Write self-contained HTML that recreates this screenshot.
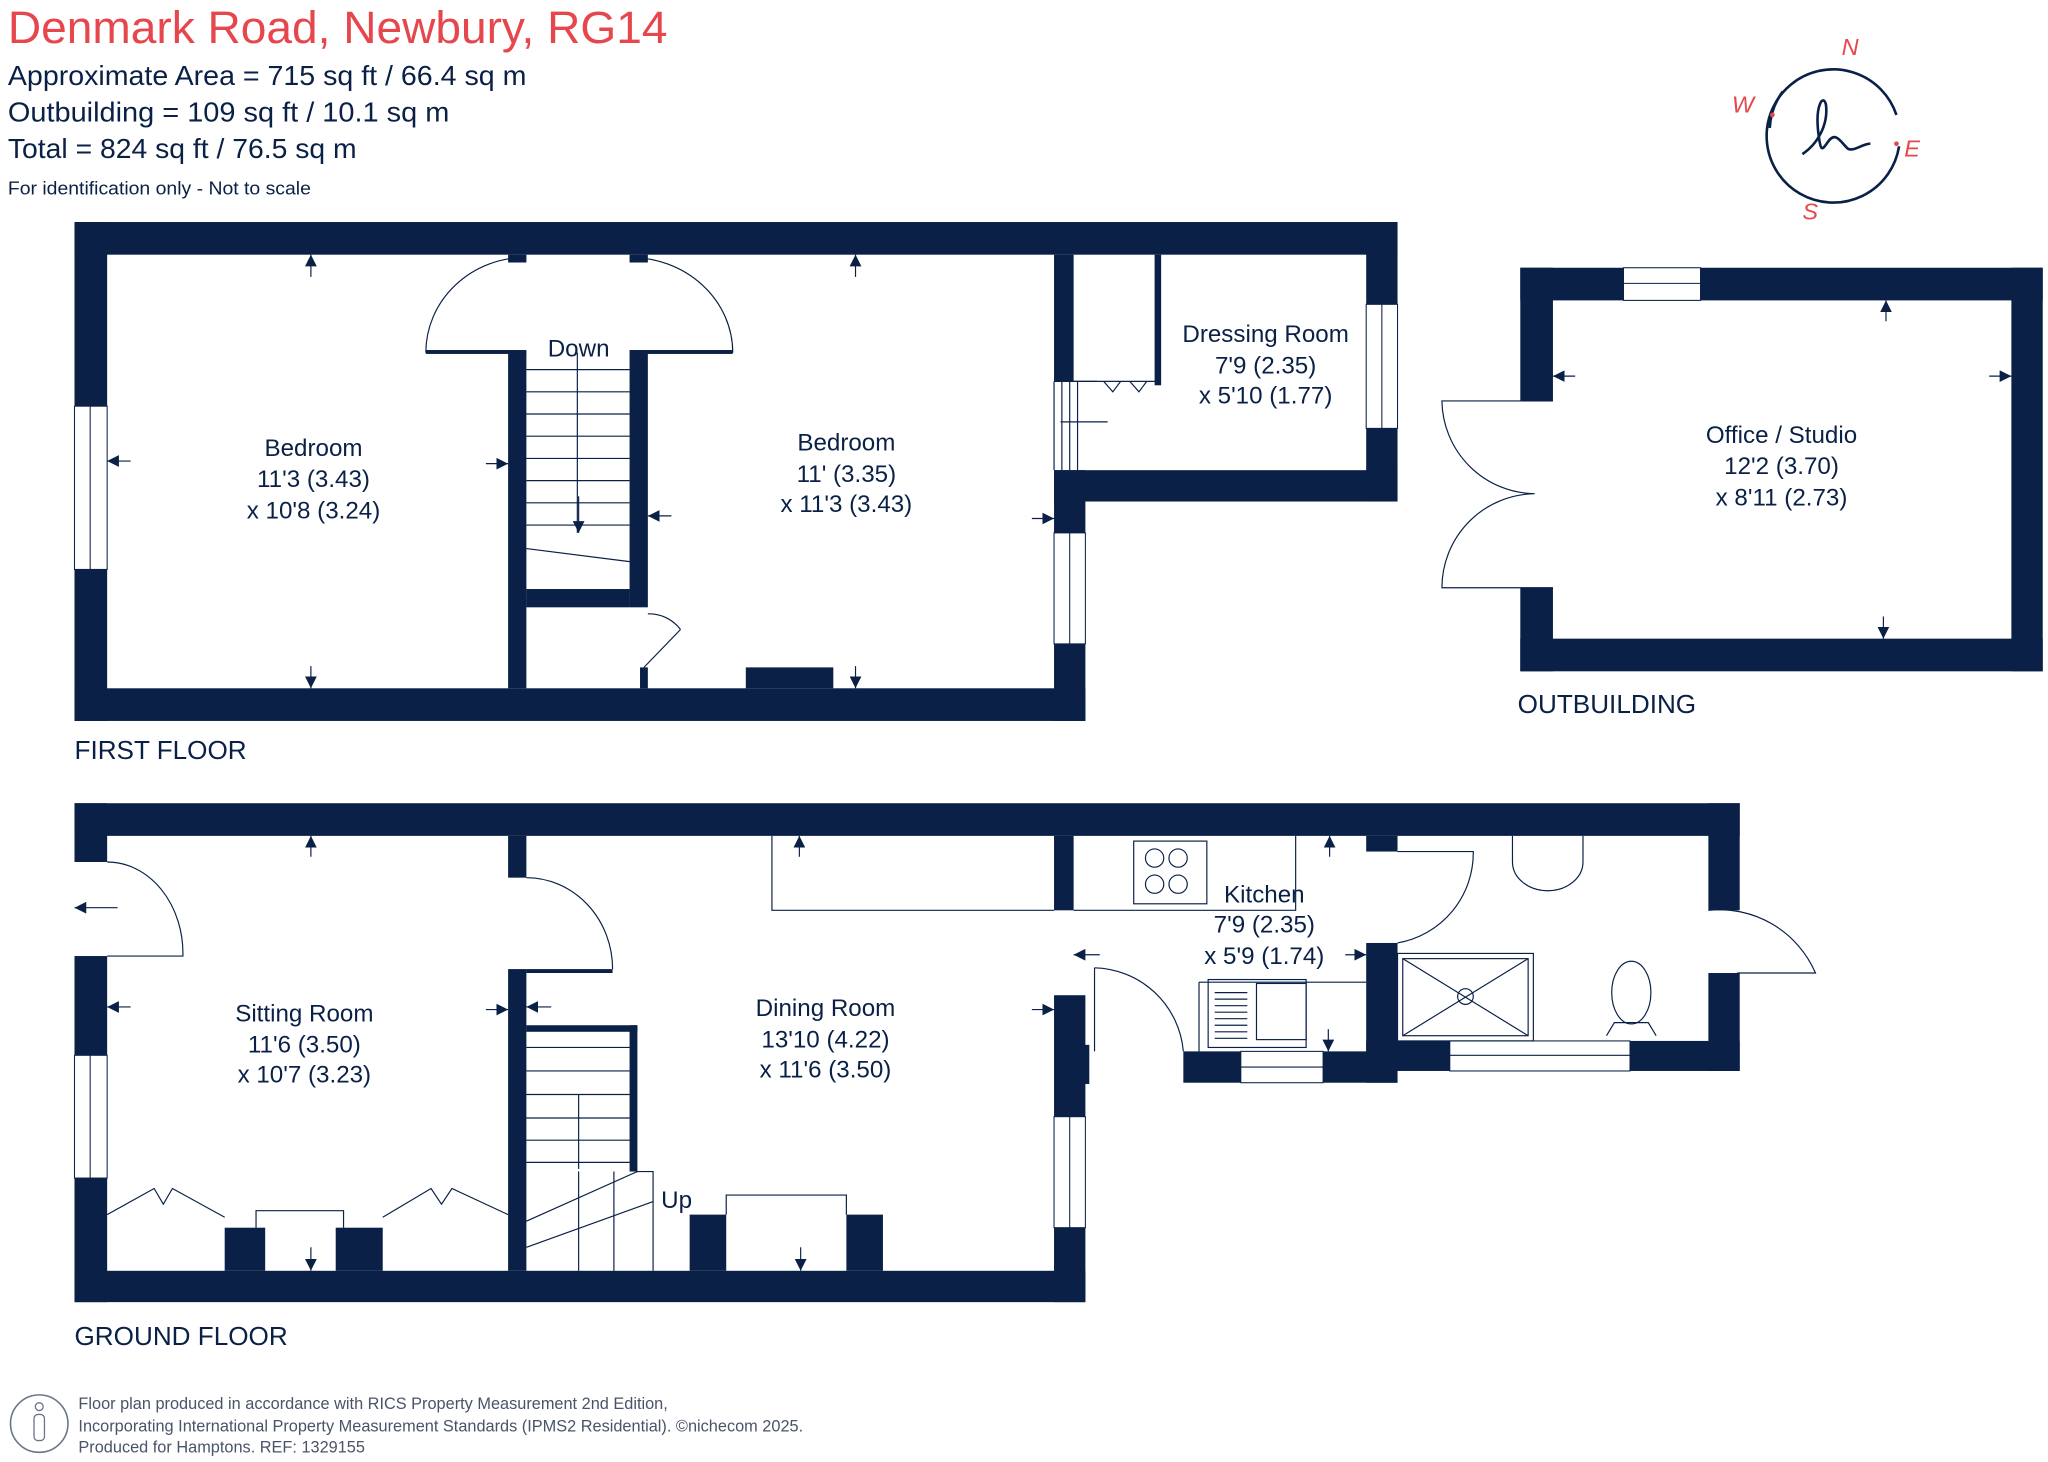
<!DOCTYPE html>
<html><head><meta charset="utf-8"><style>
html,body{margin:0;padding:0;background:#fff;width:2048px;height:1462px;overflow:hidden}
svg{display:block}
text{font-family:"Liberation Sans",sans-serif;fill:#0a2046}
</style></head><body>
<svg width="2048" height="1462" viewBox="0 0 1568 1119.4" xmlns="http://www.w3.org/2000/svg">
<defs>
<marker id="ah" viewBox="0 0 10 10" refX="10" refY="5" markerWidth="9" markerHeight="9" orient="auto" markerUnits="userSpaceOnUse"><path d="M0,0L10,5L0,10z" fill="#0a2046"/></marker>
</defs>
<!-- header -->
<text x="6" y="33" font-size="35" style="fill:#e5474d" textLength="505" lengthAdjust="spacingAndGlyphs">Denmark Road, Newbury, RG14</text>
<text x="6" y="65" font-size="21" textLength="397" lengthAdjust="spacingAndGlyphs">Approximate Area = 715 sq ft / 66.4 sq m</text>
<text x="6" y="93" font-size="21" textLength="338" lengthAdjust="spacingAndGlyphs">Outbuilding = 109 sq ft / 10.1 sq m</text>
<text x="6" y="121" font-size="21" textLength="267" lengthAdjust="spacingAndGlyphs">Total = 824 sq ft / 76.5 sq m</text>
<text x="6" y="149" font-size="14" textLength="232" lengthAdjust="spacingAndGlyphs">For identification only - Not to scale</text>

<!-- compass -->
<g fill="none" stroke="#0a2046" stroke-width="2">
<path d="M1454,112 A51,51 0 1,1 1452,88"/>
<path d="M1355,98 A51,51 0 0,1 1365,70"/>
<path d="M1380,118 C1392,110 1400,95 1398,80 C1396,72 1390,80 1392,100 C1394,118 1395,115 1400,108 C1406,100 1410,110 1415,114 C1420,116 1426,110 1432,110"/>
</g>
<g font-size="18" font-style="italic">
<text x="1410" y="42" style="fill:#e5474d">N</text>
<text x="1326" y="86" style="fill:#e5474d">W</text>
<text x="1458" y="120" style="fill:#e5474d">E</text>
<text x="1380" y="168" style="fill:#e5474d">S</text>
</g>
<circle cx="1357" cy="88" r="1.8" fill="#e5474d"/><circle cx="1452" cy="110" r="1.8" fill="#e5474d"/>

<g fill="#0a2046">
<!-- FIRST FLOOR -->
<rect x="57" y="170" width="1013" height="25"/>
<rect x="57" y="170" width="25" height="382"/>
<rect x="57" y="527" width="774" height="25"/>
<rect x="807" y="360" width="24" height="192"/>
<rect x="807" y="360" width="263" height="24"/>
<rect x="1046" y="170" width="24" height="214"/>
<rect x="807" y="195" width="15" height="97"/>
<rect x="884" y="195" width="5" height="100"/>
<rect x="389" y="270" width="14" height="257"/>
<rect x="482" y="270" width="14" height="195"/>
<rect x="403" y="451" width="79" height="14"/>
<rect x="389" y="195" width="14" height="6"/>
<rect x="482" y="195" width="14" height="6"/>
<rect x="326" y="268" width="77" height="3"/>
<rect x="482" y="268" width="79" height="3"/>
<rect x="571" y="511" width="67" height="16"/>
<rect x="490" y="511" width="6" height="16"/>
<!-- GROUND FLOOR -->
<rect x="57" y="615" width="1275" height="25"/>
<rect x="57" y="615" width="25" height="45"/>
<rect x="57" y="732" width="25" height="265"/>
<rect x="57" y="973" width="774" height="24"/>
<rect x="807" y="762" width="24" height="235"/>
<rect x="389" y="640" width="14" height="32"/>
<rect x="389" y="742" width="14" height="231"/>
<rect x="403" y="742" width="66" height="3"/>
<rect x="403" y="785" width="85" height="5"/>
<rect x="482" y="785" width="6" height="112"/>
<rect x="807" y="640" width="15" height="57"/>
<rect x="172" y="940" width="31" height="33"/>
<rect x="257" y="940" width="36" height="33"/>
<rect x="528" y="930" width="28" height="43"/>
<rect x="648" y="930" width="28" height="43"/>
<rect x="906" y="805" width="164" height="24"/>
<rect x="1046" y="640" width="24" height="12"/>
<rect x="1046" y="722" width="24" height="107"/>
<rect x="1046" y="797" width="286" height="23"/>
<rect x="1308" y="615" width="24" height="82"/>
<rect x="1308" y="745" width="24" height="75"/>
<rect x="822" y="800" width="12" height="30"/>
<!-- OUTBUILDING -->
<rect x="1164" y="205" width="400" height="25"/>
<rect x="1164" y="489" width="400" height="25"/>
<rect x="1540" y="205" width="24" height="309"/>
<rect x="1164" y="205" width="25" height="102"/>
<rect x="1164" y="450" width="25" height="64"/>
</g>
<!-- windows -->
<g fill="#fff" stroke="#0a2046" stroke-width="0.8">
<rect x="57" y="311" width="25" height="125"/><line x1="69" y1="311" x2="69" y2="436"/>
<rect x="1046" y="233" width="24" height="95"/><line x1="1058" y1="233" x2="1058" y2="328"/>
<rect x="807" y="408" width="24" height="85"/><line x1="819" y1="408" x2="819" y2="493"/>
<rect x="57" y="808" width="25" height="94"/><line x1="69" y1="808" x2="69" y2="902"/>
<rect x="807" y="855" width="24" height="85"/><line x1="819" y1="855" x2="819" y2="940"/>
<rect x="950" y="805" width="63" height="24"/><line x1="950" y1="817" x2="1013" y2="817"/>
<rect x="1110" y="797" width="138" height="23"/><line x1="1110" y1="808" x2="1248" y2="808"/>
<rect x="1243" y="205" width="59" height="25"/><line x1="1243" y1="217" x2="1302" y2="217"/>
</g>
<!-- thin lines -->
<g fill="none" stroke="#0a2046" stroke-width="0.9">
<path d="M326,270 A77,73 0 0,1 403,197"/>
<path d="M561,270 A79,73 0 0,0 482,197"/>
<line x1="442" y1="270" x2="442" y2="408"/>
<path d="M403,283H482M403,300H482M403,317H482M403,334H482M403,351H482M403,368H482M403,385H482M403,402H482M403,420L482,430"/>
<path d="M493,511L521,482M496,470A30,30 0 0,1 521,482"/>
<path d="M807,292H840M807,292V360M813,292V360M819,292V360M825,292V360M812,323H848"/>
<path d="M822,292H884M845,292L852,300L858,292M865,292L872,300L878,292"/>
<path d="M82,660A58,70 0 0,1 140,732H82"/>
<path d="M403,672A66,70 0 0,1 469,742"/>
<path d="M403,802H482M403,820H482M403,838H482M403,856H482M403,873H482M403,890H482M403,935L488,897H500V973M443,973V897M470,973V897M403,955L500,920"/>
<line x1="443" y1="895" x2="443" y2="838"/>
<path d="M556,930V915H648V930"/>
<path d="M196,940V927H263V940"/>
<path d="M82,930L118,910L125,922L132,910L172,932"/>
<path d="M293,932L330,910L338,922L346,910L389,930"/>
<path d="M591,640V697H807M822,697H992V640"/>
<rect x="868" y="644" width="56" height="48"/><circle cx="884" cy="657" r="7"/><circle cx="902" cy="657" r="7"/><circle cx="884" cy="677" r="7"/><circle cx="902" cy="677" r="7"/>
<path d="M918,752H1046M918,752V805"/>
<rect x="925" y="750" width="75" height="52"/><rect x="962" y="753" width="38" height="43"/>
<path d="M930,760H955M930,765H955M930,770H955M930,775H955M930,780H955M930,785H955M930,790H955M930,795H955"/>
<path d="M838,741A70,70 0 0,1 906,805"/><line x1="838" y1="741" x2="838" y2="805"/>
<path d="M1070,652H1128A70,70 0 0,1 1070,722"/>
<path d="M1308,697A80,80 0 0,1 1390,745H1330"/>
<path d="M1158,640V660A27,22 0 0,0 1212,660V640"/>
<rect x="1070" y="730" width="104" height="67"/><rect x="1074" y="734" width="96" height="59"/><path d="M1074,734L1170,793M1170,734L1074,793"/><circle cx="1122" cy="763" r="6"/>
<ellipse cx="1249" cy="760" rx="15" ry="24"/><path d="M1230,793L1236,783H1262L1268,793"/>
<path d="M1189,307H1104A72,72 0 0,0 1175,378A72,72 0 0,0 1104,450H1189"/>
</g>
<!-- dimension arrows -->
<g stroke="#0a2046" stroke-width="0.9" marker-end="url(#ah)">
<line x1="238" y1="212" x2="238" y2="195"/><line x1="238" y1="510" x2="238" y2="527"/>
<line x1="100" y1="353" x2="82" y2="353"/><line x1="372" y1="355" x2="389" y2="355"/>
<line x1="655" y1="212" x2="655" y2="195"/><line x1="655" y1="510" x2="655" y2="527"/>
<line x1="514" y1="395" x2="496" y2="395"/><line x1="790" y1="397" x2="807" y2="397"/>
<line x1="1444" y1="246" x2="1444" y2="230"/><line x1="1442" y1="472" x2="1442" y2="489"/>
<line x1="1206" y1="288" x2="1189" y2="288"/><line x1="1523" y1="288" x2="1540" y2="288"/>
<line x1="238" y1="656" x2="238" y2="640"/><line x1="238" y1="955" x2="238" y2="973"/>
<line x1="100" y1="771" x2="82" y2="771"/><line x1="372" y1="773" x2="389" y2="773"/>
<line x1="422" y1="771" x2="403" y2="771"/><line x1="790" y1="773" x2="807" y2="773"/>
<line x1="612" y1="656" x2="612" y2="640"/><line x1="613" y1="955" x2="613" y2="973"/>
<line x1="1018" y1="656" x2="1018" y2="640"/><line x1="1017" y1="788" x2="1017" y2="805"/>
<line x1="842" y1="731" x2="822" y2="731"/><line x1="1030" y1="731" x2="1046" y2="731"/>
<line x1="443" y1="380" x2="443" y2="408"/>
<line x1="90" y1="695" x2="57" y2="695"/>
</g>
<!-- labels -->
<g font-size="18.5" text-anchor="middle">
<text x="240" y="349">Bedroom</text><text x="240" y="373">11'3 (3.43)</text><text x="240" y="397">x 10'8 (3.24)</text>
<text x="648" y="345">Bedroom</text><text x="648" y="369">11' (3.35)</text><text x="648" y="392">x 11'3 (3.43)</text>
<text x="969" y="262">Dressing Room</text><text x="969" y="286">7'9 (2.35)</text><text x="969" y="309">x 5'10 (1.77)</text>
<text x="443" y="273">Down</text>
<text x="1364" y="339">Office / Studio</text><text x="1364" y="363">12'2 (3.70)</text><text x="1364" y="387">x 8'11 (2.73)</text>
<text x="233" y="782">Sitting Room</text><text x="233" y="806">11'6 (3.50)</text><text x="233" y="829">x 10'7 (3.23)</text>
<text x="632" y="778">Dining Room</text><text x="632" y="802">13'10 (4.22)</text><text x="632" y="825">x 11'6 (3.50)</text>
<text x="968" y="691">Kitchen</text><text x="968" y="714">7'9 (2.35)</text><text x="968" y="738">x 5'9 (1.74)</text>
<text x="518" y="925">Up</text>
</g>
<g font-size="20">
<text x="57" y="581">FIRST FLOOR</text>
<text x="57" y="1030">GROUND FLOOR</text>
<text x="1162" y="546">OUTBUILDING</text>
</g>
<!-- footer -->
<circle cx="30" cy="1090" r="22" fill="none" stroke="#6a7487" stroke-width="1.2"/>
<circle cx="30" cy="1077" r="3" fill="none" stroke="#6a7487"/><rect x="26" y="1083" width="8" height="20" rx="3" fill="none" stroke="#6a7487"/>
<g font-size="12.5">
<text x="60" y="1079" style="fill:#4a5468">Floor plan produced in accordance with RICS Property Measurement 2nd Edition,</text>
<text x="60" y="1096" style="fill:#4a5468">Incorporating International Property Measurement Standards (IPMS2 Residential).   ©nichecom 2025.</text>
<text x="60" y="1112" style="fill:#4a5468">Produced for Hamptons.   REF: 1329155</text>
</g>
</svg>
</body></html>
